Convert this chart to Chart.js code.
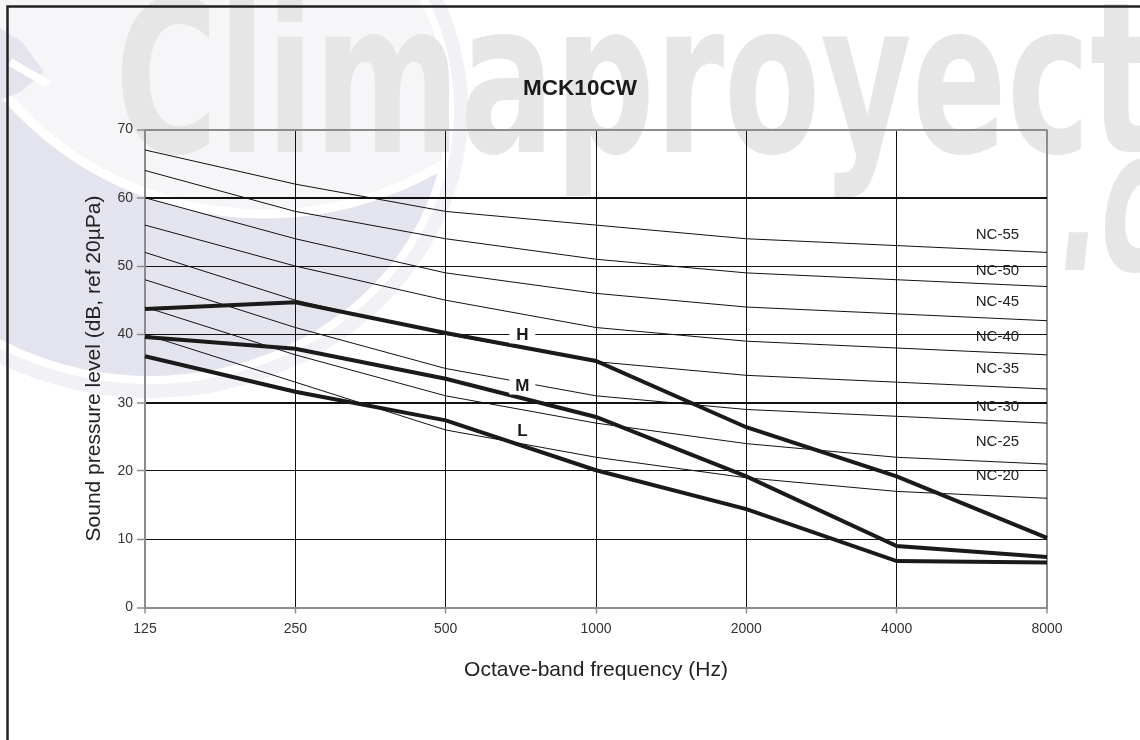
<!DOCTYPE html>
<html>
<head>
<meta charset="utf-8">
<title>MCK10CW</title>
<script src="https://cdn.jsdelivr.net/npm/chart.js@4.4.1/dist/chart.umd.min.js"></script>
<style>
  html, body { margin: 0; padding: 0; background: #fff; }
</style>
</head>
<body>
<canvas id="myChart" width="1140" height="740"></canvas>
<script>
// octave bands (Hz) and y ticks
var bands = ['125', '250', '500', '1000', '2000', '4000', '8000'];
var yTicks = [0, 10, 20, 30, 40, 50, 60, 70];

// NC reference curves
var nc20 = [40, 33, 26, 22, 19, 17, 16];
var nc25 = [44, 37, 31, 27, 24, 22, 21];
var nc30 = [48, 41, 35, 31, 29, 28, 27];
var nc35 = [52, 45, 40, 36, 34, 33, 32];
var nc40 = [56, 50, 45, 41, 39, 38, 37];
var nc45 = [60, 54, 49, 46, 44, 43, 42];
var nc50 = [64, 58, 54, 51, 49, 48, 47];
var nc55 = [67, 62, 58, 56, 54, 53, 52];

// unit levels, fan speed H / M / L
var fanH = [43.7, 44.7, 40.2, 36.1, 26.4, 19.2, 10.2];
var fanM = [39.6, 37.9, 33.5, 27.9, 19.2, 9.0, 7.4];
var fanL = [36.8, 31.6, 27.4, 20.1, 14.4, 6.8, 6.6];

// curve labels
var ncNames = ['NC-20', 'NC-25', 'NC-30', 'NC-35', 'NC-40', 'NC-45', 'NC-50', 'NC-55'];
var ncLabelLevels = [19.3, 24.3, 29.4, 35, 39.6, 44.7, 49.3, 54.6];
var fanNames = ['H', 'M', 'L'];
var fanLabelLevels = [40, 32.5, 26];

var FONT = '"Liberation Sans", Arial, sans-serif';

function ncSet(data) {
  return { data: data, borderColor: '#111', borderWidth: 1, pointRadius: 0, tension: 0, fill: false };
}
function fanSet(data) {
  return { data: data, borderColor: '#1a1a1a', borderWidth: 4, pointRadius: 0, tension: 0, fill: false, borderJoinStyle: 'miter' };
}

// watermark behind everything
var watermark = {
  id: 'watermark',
  beforeDraw: function (chart) {
    var ctx = chart.ctx;
    ctx.save();
    ctx.fillStyle = '#fff';
    ctx.fillRect(0, 0, chart.width, chart.height);

    // logo swoosh
    ctx.fillStyle = '#f2f2f6';
    ctx.beginPath(); ctx.ellipse(150, 110, 318, 288, 0, 0, Math.PI * 2); ctx.fill();
    ctx.fillStyle = '#e4e4ee';
    ctx.beginPath(); ctx.ellipse(150, 110, 300, 270, 0, 0, Math.PI * 2); ctx.fill();
    ctx.strokeStyle = '#fff';
    ctx.lineWidth = 8; ctx.stroke();
    ctx.save();
    ctx.beginPath(); ctx.ellipse(150, 110, 296, 266, 0, 0, Math.PI * 2); ctx.clip();
    ctx.fillStyle = '#f6f6f8';
    ctx.beginPath(); ctx.arc(265, -130, 344, 0, Math.PI * 2); ctx.fill();
    ctx.strokeStyle = '#fff'; ctx.lineWidth = 9; ctx.stroke();
    ctx.restore();
    ctx.fillStyle = '#e4e4ee';
    ctx.beginPath();
    ctx.moveTo(0, 28); ctx.lineTo(22, 42); ctx.lineTo(44, 72); ctx.lineTo(20, 92); ctx.lineTo(0, 100);
    ctx.closePath(); ctx.fill();
    ctx.strokeStyle = '#fff'; ctx.lineWidth = 8;
    ctx.beginPath(); ctx.moveTo(10, 62); ctx.lineTo(48, 84); ctx.stroke();

    // brand text
    ctx.fillStyle = '#e6e6e6';
    ctx.font = 'bold 210px "DejaVu Sans Condensed", "DejaVu Sans", sans-serif';
    var w = ctx.measureText('Climaproyec').width;
    ctx.save();
    ctx.translate(115, 152);
    ctx.scale((1090 - 115) / w, 1);
    ctx.fillText('Climaproyect', 0, 0);
    ctx.restore();
    ctx.save();
    ctx.font = 'italic bold 200px "DejaVu Sans Condensed", "DejaVu Sans", sans-serif';
    ctx.translate(1060, 270);
    ctx.scale(0.6, 1);
    ctx.fillText('.co', 0, 0);
    ctx.restore();
    ctx.restore();
  }
};

// curve labels, title and frame
var annotations = {
  id: 'annotations',
  afterDatasetsDraw: function (chart) {
    var ctx = chart.ctx, x = chart.scales.x, y = chart.scales.y;
    ctx.save();
    ctx.textAlign = 'center';
    ctx.textBaseline = 'middle';
    ctx.font = '15px ' + FONT;
    ctx.fillStyle = '#222';
    ncNames.forEach(function (name, i) {
      ctx.fillText(name, x.getPixelForValue(5.67), y.getPixelForValue(ncLabelLevels[i]));
    });
    ctx.font = 'bold 17px ' + FONT;
    fanNames.forEach(function (name, i) {
      var px = x.getPixelForValue(2.51), py = y.getPixelForValue(fanLabelLevels[i]);
      ctx.fillStyle = '#fff';
      ctx.fillRect(px - 13, py - 9, 26, 18);
      ctx.fillStyle = '#1a1a1a';
      ctx.fillText(name, px, py + 1);
    });
    ctx.restore();
  },
  afterDraw: function (chart) {
    var ctx = chart.ctx;
    ctx.save();
    ctx.fillStyle = '#1a1a1a';
    ctx.font = 'bold 22.5px ' + FONT;
    ctx.textAlign = 'center';
    ctx.textBaseline = 'middle';
    ctx.fillText('MCK10CW', 580, 89);
    ctx.strokeStyle = '#222';
    ctx.lineWidth = 2.5;
    ctx.beginPath();
    ctx.moveTo(7.5, chart.height);
    ctx.lineTo(7.5, 6.5);
    ctx.lineTo(chart.width, 6.5);
    ctx.stroke();
    ctx.restore();
  }
};

var ctx = document.getElementById('myChart').getContext('2d');
var myChart = new Chart(ctx, {
  type: 'line',
  data: {
    labels: bands,
    datasets: [
      fanSet(fanH), fanSet(fanM), fanSet(fanL),
      ncSet(nc20), ncSet(nc25), ncSet(nc30), ncSet(nc35),
      ncSet(nc40), ncSet(nc45), ncSet(nc50), ncSet(nc55)
    ]
  },
  options: {
    responsive: false,
    animation: false,
    layout: { padding: { top: 129.5, right: 93, bottom: 0, left: 0 } },
    plugins: {
      legend: { display: false },
      tooltip: { enabled: false },
      title: { display: false }
    },
    scales: {
      x: {
        offset: false,
        ticks: { color: '#333', font: { family: FONT, size: 14 }, padding: 7, maxRotation: 0 },
        grid: {
          offset: false,
          color: function (c) { return (c.index === 0 || c.index === bands.length - 1) ? '#8c8c8c' : '#111'; },
          lineWidth: function (c) { return (c.index === 0 || c.index === bands.length - 1) ? 2 : 1; },
          tickColor: '#8c8c8c', tickLength: 6, tickWidth: 1.5
        },
        border: { color: '#8c8c8c', width: 2 },
        title: {
          display: true, text: 'Octave-band frequency (Hz)', color: '#222',
          font: { family: FONT, size: 21 }, padding: { top: 0, bottom: 57.4 }
        },
        afterFit: function (s) { s.height = 132.5; }
      },
      y: {
        min: 0, max: 70,
        afterBuildTicks: function (s) { s.ticks = yTicks.map(function (v) { return { value: v }; }); },
        ticks: { color: '#333', font: { family: FONT, size: 14 }, padding: 4 },
        grid: {
          color: function (c) { var v = c.tick.value; return (v === 0 || v === 70) ? '#8c8c8c' : '#111'; },
          lineWidth: function (c) { var v = c.tick.value; return (v % 30 === 0 || v === 70) ? 2 : 1; },
          tickColor: '#8c8c8c', tickLength: 8, tickWidth: 1.5
        },
        border: { color: '#8c8c8c', width: 2 },
        title: {
          display: true, text: 'Sound pressure level (dB, ref 20µPa)', color: '#222',
          font: { family: FONT, size: 21 }, padding: { top: 81.4, bottom: 0 }
        },
        afterFit: function (s) { s.width = 145; }
      }
    }
  },
  plugins: [watermark, annotations]
});
</script>
</body>
</html>
